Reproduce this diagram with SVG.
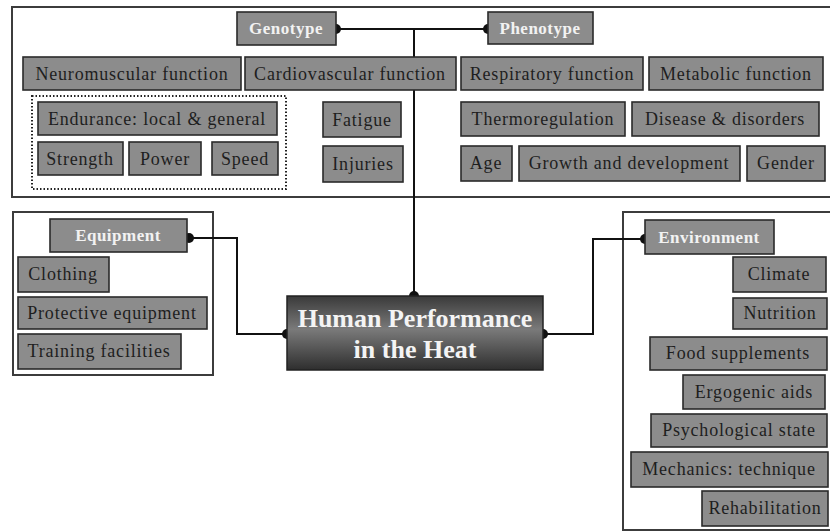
<svg xmlns="http://www.w3.org/2000/svg" width="830" height="532" viewBox="0 0 830 532">
<defs>
<linearGradient id="cg" x1="0" y1="0" x2="0" y2="1">
<stop offset="0" stop-color="#3a3a3a"/>
<stop offset="0.45" stop-color="#7a7a7a"/>
<stop offset="1" stop-color="#2e2e2e"/>
</linearGradient>
</defs>
<style>
.grp{fill:#fff;stroke:#3c3c3c;stroke-width:2}
.box{fill:#8c8c8c;stroke:#2a2a2a;stroke-width:1.6}
.t{font-family:"Liberation Serif",serif;font-size:18px;letter-spacing:0.8px;fill:#1e1e1e;text-anchor:middle}
.lt{font-family:"Liberation Serif",serif;font-size:17px;font-weight:bold;letter-spacing:0.5px;fill:#f2f2f2;text-anchor:middle}
.ct{font-family:"Liberation Serif",serif;font-size:26px;font-weight:bold;fill:#f4f4f4;text-anchor:middle}
.ln{fill:none;stroke:#111;stroke-width:2}
.dot{fill:#111}
.dash{fill:none;stroke:#222;stroke-width:2;stroke-dasharray:1.5 2}
</style>
<rect x="0" y="0" width="830" height="532" fill="#fff"/>
<rect class="grp" x="12" y="7" width="822" height="190"/>
<rect class="grp" x="13" y="212" width="200" height="163"/>
<rect class="grp" x="623" y="212" width="212" height="318"/>
<rect class="dash" x="32" y="96" width="254" height="93"/>

<g id="connectors">
<path class="ln" d="M336 29 H488"/>
<path class="ln" d="M414 29 V296"/>
<path class="ln" d="M189 238 H237 V334 H287"/>
<path class="ln" d="M543 334 H593 V239 H645"/>
<circle class="dot" cx="336" cy="29" r="5"/>
<circle class="dot" cx="488" cy="29" r="5"/>
<circle class="dot" cx="414" cy="296" r="5"/>
<circle class="dot" cx="189" cy="238" r="5"/>
<circle class="dot" cx="287" cy="334" r="5"/>
<circle class="dot" cx="543" cy="334" r="5"/>
<circle class="dot" cx="645" cy="239" r="5"/>
</g>

<g id="genotype"><rect class="box" x="237" y="12" width="99" height="33"/><text class="lt" x="286" y="34">Genotype</text></g>
<g id="phenotype"><rect class="box" x="488" y="12" width="105" height="32"/><text class="lt" x="540" y="34">Phenotype</text></g>

<g id="neuromuscular"><rect class="box" x="23" y="57" width="218" height="33"/><text class="t" x="132" y="80">Neuromuscular function</text></g>
<g id="cardiovascular"><rect class="box" x="245" y="57" width="211" height="33"/><text class="t" x="350" y="80">Cardiovascular function</text></g>
<g id="respiratory"><rect class="box" x="461" y="57" width="182" height="33"/><text class="t" x="552" y="80">Respiratory function</text></g>
<g id="metabolic"><rect class="box" x="649" y="57" width="174" height="33"/><text class="t" x="736" y="80">Metabolic function</text></g>

<g id="endurance"><rect class="box" x="38" y="102" width="239" height="33"/><text class="t" x="157" y="125">Endurance: local &amp; general</text></g>
<g id="strength"><rect class="box" x="38" y="142" width="85" height="33"/><text class="t" x="80" y="165">Strength</text></g>
<g id="power"><rect class="box" x="129" y="142" width="72" height="33"/><text class="t" x="165" y="165">Power</text></g>
<g id="speed"><rect class="box" x="212" y="142" width="66" height="33"/><text class="t" x="245" y="165">Speed</text></g>
<g id="fatigue"><rect class="box" x="323" y="102" width="78" height="35"/><text class="t" x="362" y="126">Fatigue</text></g>
<g id="injuries"><rect class="box" x="323" y="146" width="80" height="36"/><text class="t" x="363" y="170">Injuries</text></g>

<g id="thermoregulation"><rect class="box" x="461" y="102" width="164" height="34"/><text class="t" x="543" y="125">Thermoregulation</text></g>
<g id="disease"><rect class="box" x="632" y="102" width="187" height="34"/><text class="t" x="725" y="125">Disease &amp; disorders</text></g>
<g id="age"><rect class="box" x="461" y="146" width="51" height="35"/><text class="t" x="486" y="169">Age</text></g>
<g id="growth"><rect class="box" x="519" y="146" width="221" height="35"/><text class="t" x="629" y="169">Growth and development</text></g>
<g id="gender"><rect class="box" x="747" y="146" width="78" height="35"/><text class="t" x="786" y="169">Gender</text></g>

<g id="equipment"><rect class="box" x="50" y="219" width="137" height="33"/><text class="lt" x="118" y="241">Equipment</text></g>
<g id="clothing"><rect class="box" x="18" y="257" width="91" height="35"/><text class="t" x="63" y="280">Clothing</text></g>
<g id="protective"><rect class="box" x="18" y="297" width="189" height="32"/><text class="t" x="112" y="319">Protective equipment</text></g>
<g id="training"><rect class="box" x="18" y="334" width="163" height="35"/><text class="t" x="99" y="357">Training facilities</text></g>

<g id="center"><rect x="287" y="296" width="256" height="74" fill="url(#cg)" stroke="#222" stroke-width="1.5"/><text class="ct" x="415" y="327">Human Performance</text><text class="ct" x="415" y="358">in the Heat</text></g>

<g id="environment"><rect class="box" x="645" y="220" width="129" height="34"/><text class="lt" x="709" y="243">Environment</text></g>
<g id="climate"><rect class="box" x="733" y="257" width="93" height="35"/><text class="t" x="779" y="280">Climate</text></g>
<g id="nutrition"><rect class="box" x="733" y="298" width="94" height="31"/><text class="t" x="780" y="319">Nutrition</text></g>
<g id="food"><rect class="box" x="650" y="337" width="177" height="33"/><text class="t" x="738" y="359">Food supplements</text></g>
<g id="ergogenic"><rect class="box" x="683" y="375" width="142" height="34"/><text class="t" x="754" y="398">Ergogenic aids</text></g>
<g id="psychological"><rect class="box" x="651" y="414" width="176" height="33"/><text class="t" x="739" y="436">Psychological state</text></g>
<g id="mechanics"><rect class="box" x="631" y="452" width="197" height="35"/><text class="t" x="729" y="475">Mechanics: technique</text></g>
<g id="rehabilitation"><rect class="box" x="702" y="491" width="126" height="35"/><text class="t" x="765" y="514">Rehabilitation</text></g>
</svg>
